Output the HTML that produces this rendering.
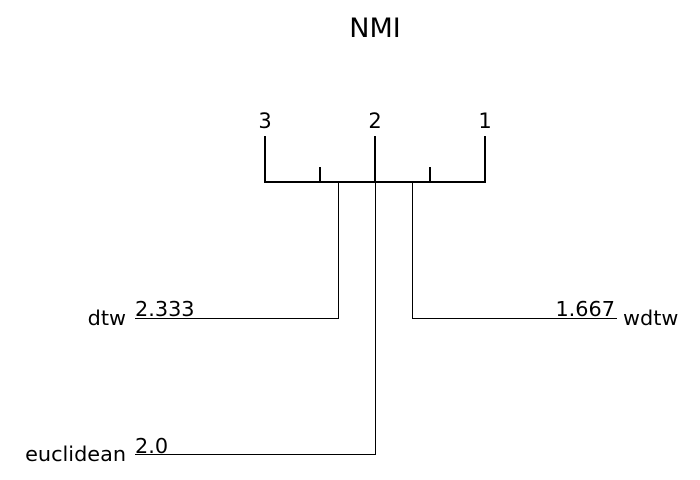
<!DOCTYPE html>
<html><head><meta charset="utf-8"><style>
html,body{margin:0;padding:0;background:#fff;}
svg{display:block;}
text{font-family:"DejaVu Sans","Liberation Sans",sans-serif;fill:#000;}
</style></head><body>
<svg width="700" height="480" viewBox="0 0 700 480" xmlns="http://www.w3.org/2000/svg">
<text x="375" y="37" font-size="27" text-anchor="middle">NMI</text>
<g stroke="#000" stroke-width="2" fill="none">
<line x1="264" y1="182" x2="486" y2="182"/>
<line x1="265" y1="136" x2="265" y2="182"/>
<line x1="375" y1="136" x2="375" y2="182"/>
<line x1="485" y1="136" x2="485" y2="182"/>
<line x1="320" y1="167" x2="320" y2="182"/>
<line x1="430" y1="167" x2="430" y2="182"/>
</g>
<g font-size="21" text-anchor="middle">
<text x="265" y="128">3</text>
<text x="375" y="128">2</text>
<text x="485" y="128">1</text>
</g>
<g stroke="#000" stroke-width="1" fill="none">
<polyline points="338.5,182 338.5,318.5 135,318.5"/>
<polyline points="412.5,182 412.5,318.5 617,318.5"/>
<polyline points="375.5,182 375.5,454.5 135,454.5"/>
</g>
<g font-size="20.8">
<text x="135" y="316">2.333</text>
<text x="126" y="325" text-anchor="end">dtw</text>
<text x="615" y="316" text-anchor="end">1.667</text>
<text x="623" y="325">wdtw</text>
<text x="135" y="453">2.0</text>
<text x="126" y="461" text-anchor="end">euclidean</text>
</g>
</svg>
</body></html>
